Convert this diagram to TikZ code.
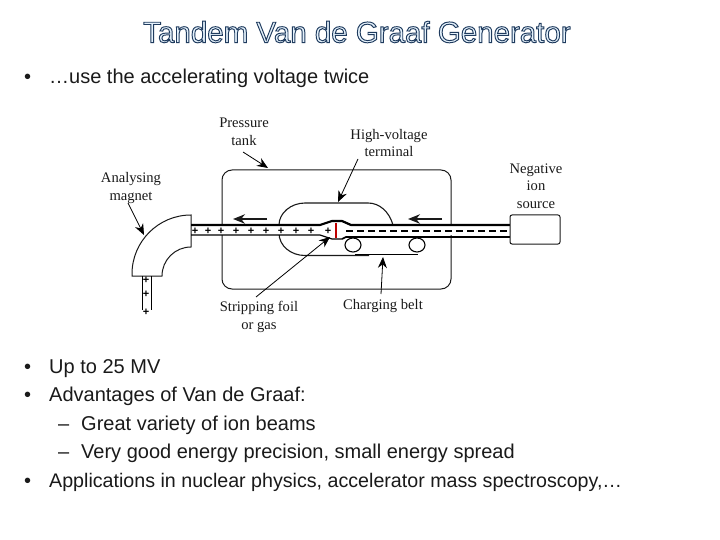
\documentclass[tikz,border=0pt]{standalone}
\usepackage{fontspec}
\setmainfont{Liberation Sans}
\newfontfamily\labelfont{Liberation Serif}
\usetikzlibrary{arrows.meta,shapes.geometric,calc}
\definecolor{inkc}{HTML}{1A1A1A}
\newcommand{\outlinetitle}[1]{\special{pdf:code q 2 Tr 0.95 w 0.12 0.23 0.37 RG 0.90 0.95 0.99 rg}#1\special{pdf:code Q}}
\tikzset{
  x=1pt,y=-1pt,
  body/.style={anchor=base west,inner sep=0pt,font=\fontsize{20}{22}\selectfont,text=inkc},
  lbl/.style={align=center,inner sep=0pt,text=inkc,font=\labelfont\fontsize{14.6}{17.5}\selectfont},
  pointer/.style={draw=black,line width=0.8pt,-{Stealth[length=11pt,width=9pt]}},
  flow/.style={draw=inkc,line width=1.3pt,-{Stealth[length=12pt,width=9.5pt]}},
  plusmark/.style={inner sep=0pt,font=\bfseries\fontsize{11}{11}\selectfont,text=black},
  wall/.style={draw=inkc,line width=1pt},
  tube/.style={draw=black,line width=2.2pt},
  thin tube/.style={draw=black,line width=1.2pt},
}
\begin{document}
\begin{tikzpicture}
\useasboundingbox (0,0) rectangle (720,540);
\fill[white] (0,0) rectangle (720,540);

% title
\node[inner sep=0pt] (title) at (357,32) {\fontsize{29.5}{32}\selectfont\outlinetitle{Tandem Van de Graaf Generator}};

% text
\node[body] (b1) at (24,84) {•};
\node[body] (t1) at (49,84) {…use the accelerating voltage twice};
\node[body] (b2) at (24,373) {•};
\node[body] (t2) at (49,373) {Up to 25 MV};
\node[body] (b3) at (24,401) {•};
\node[body] (t3) at (49,401) {Advantages of Van de Graaf:};
\node[body] (d1) at (58,430) {–};
\node[body] (t4) at (81,430) {Great variety of ion beams};
\node[body] (d2) at (58,458) {–};
\node[body] (t5) at (81,458) {Very good energy precision, small energy spread};
\node[body] (b4) at (24,487) {•};
\node[body,font=\fontsize{19.65}{22}\selectfont] (t6) at (49,487) {Applications in nuclear physics, accelerator mass spectroscopy,…};

% tank
\node[wall,rounded corners=10pt,minimum width=229pt,minimum height=119pt,inner sep=0pt] (tank) at (336.5,229.5) {};

% terminal
\draw[wall,line width=1.1pt] (393,225) .. controls (389,211) and (379,203) .. (368,203) -- (305,203)
  .. controls (291,203) and (279,213) .. (279,225) -- (279,233)
  .. controls (279,246) and (291,255.5) .. (305,255.5) -- (369,255.5);

% magnet
\draw[wall,fill=white] (191,215) arc[start angle=-90,end angle=-180,radius=59] -- (132,276) -- (162,276)
  arc[start angle=-180,end angle=-90,radius=29] -- cycle;

% lower tube
\draw[thin tube,line width=0.9pt] (142,276) -- (142,310) (151,276) -- (151,310);

% main tube
\fill[white] (192,226) rectangle (510,235);
\draw[tube] (191,225) -- (320,225) -- (332,221) -- (342,221) -- (351,225) -- (510,225);
\draw[thin tube] (191,235) -- (320,235) -- (332,239) -- (342,239);
\draw[thin tube,line width=1.7pt] (342,239) -- (346,237) -- (510,237);
\draw[line width=1.5pt,dash pattern=on 7pt off 4pt,black] (346,231) -- (510,231);

% plus signs
\foreach \px/\nm in {195/a,208/b,221/c,236/d,251/e,266/f,281/g,296/h,311/i,328/j}
  \node[plusmark] (p\nm) at (\px,231) {+};
\foreach \py/\nm in {280/k,294/l,312/m}
  \node[plusmark] (p\nm) at (146,\py) {+};

% stripping foil
\draw[draw=red!75!black,line width=2.4pt] (336,223) -- (336,238);

% belt
\node[draw=black,line width=1.1pt,fill=white,ellipse,minimum width=16pt,minimum height=14pt,inner sep=0pt] (rolla) at (353,245) {};
\node[draw=black,line width=1.1pt,fill=white,ellipse,minimum width=16pt,minimum height=14pt,inner sep=0pt] (rollb) at (417,245) {};
\draw[line width=1.1pt] ($(rolla.south)+(2,2)$) -- ($(rollb.south)+(1,2)$);

% source
\node[wall,fill=white,rounded corners=2pt,minimum width=50pt,minimum height=29pt,inner sep=0pt] (source) at (535,229.5) {};

% flow arrows
\coordinate (fa1) at (267,219); \coordinate (fa2) at (233,219);
\coordinate (fb1) at (442,219); \coordinate (fb2) at (408,219);
\draw[flow] (fa1) -- (fa2);
\draw[flow] (fb1) -- (fb2);

% labels
\node[lbl] (lpt) at (244,132) {Pressure\\tank};
\node[lbl] (lam) at (131,188) {Analysing\\magnet};
\node[lbl] (lhv) at (389,143) {High-voltage\\terminal};
\node[lbl] (lni) at (536,186) {Negative\\ion\\source};
\node[lbl] (lsf) at (259,317) {Stripping foil\\or gas};
\node[lbl] (lcb) at (383,306) {Charging belt};

% pointers
\coordinate (e1) at (268,168);
\coordinate (e2) at (144,235);
\coordinate (e3) at (338,202);
\coordinate (e4) at (330,237);
\coordinate (e5) at (383,257);
\coordinate (s1) at (243,152);
\coordinate (s2) at (128,203);
\coordinate (s3) at (358,159);
\coordinate (s4) at (256,297);
\coordinate (s5) at (381,294);
\draw[pointer] (s1) -- (e1);
\draw[pointer] (s2) -- (e2);
\draw[pointer] (s3) -- (e3);
\draw[pointer] (s4) -- (e4);
\draw[pointer] (s5) -- (e5);
\end{tikzpicture}
\end{document}
